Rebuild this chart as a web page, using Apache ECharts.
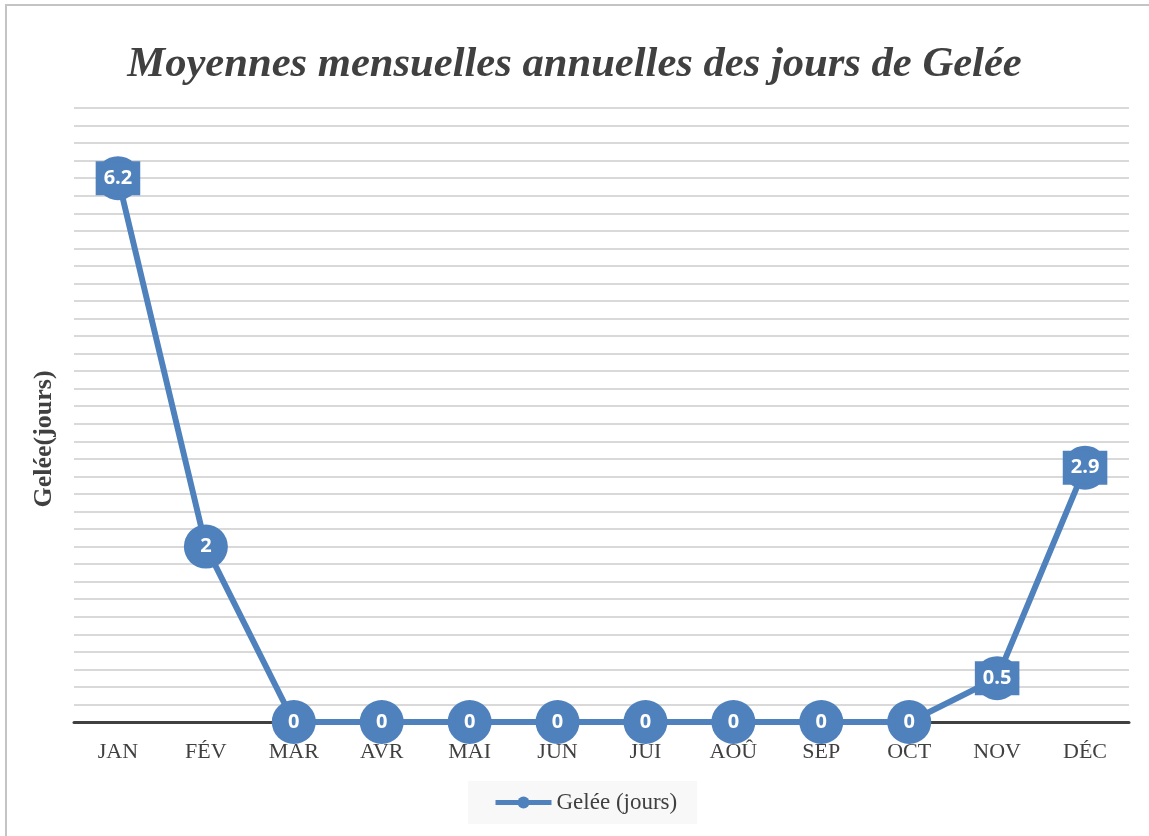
<!DOCTYPE html>
<html>
<head>
<meta charset="utf-8">
<script src="https://cdn.jsdelivr.net/npm/echarts@6/dist/echarts.min.js"></script>
<style>
    html, body { margin: 0; padding: 0; background: #fff; }
    #gelee { width: 1149px; height: 836px; }
</style>
</head>
<body>
<div id="gelee"></div>
<script>
// mois et moyennes des jours de gelée
var mois = ['JAN', 'FÉV', 'MAR', 'AVR', 'MAI', 'JUN', 'JUI', 'AOÛ', 'SEP', 'OCT', 'NOV', 'DÉC'];
var gelee = [6.2, 2, 0, 0, 0, 0, 0, 0, 0, 0, 0.5, 2.9];

var serif = '"Liberation Serif", "DejaVu Serif", serif';
var bleu = '#4f81bd';

var myChart = echarts.init(document.getElementById('gelee'));
var option = {
    backgroundColor: '#ffffff',
    title: {
        text: 'Moyennes mensuelles annuelles des jours de Gelée',
        left: 'center',
        top: 38,
        textStyle: {
            fontFamily: serif,
            fontStyle: 'italic',
            fontWeight: 'bold',
            fontSize: 42.6,
            color: '#404040'
        }
    },
    graphic: [
        {
            type: 'rect',
            shape: {x: 6, y: 5, width: 1300, height: 1000},
            style: {fill: 'none', stroke: '#c4c4c4', lineWidth: 2},
            silent: true
        },
        {
            type: 'text',
            x: 44,
            y: 439,
            rotation: Math.PI / 2,
            style: {
                text: 'Gelée(jours)',
                fontFamily: serif,
                fontWeight: 'bold',
                fontSize: 26,
                fill: '#404040',
                align: 'center',
                verticalAlign: 'middle'
            }
        }
    ],
    legend: {
        bottom: 12,
        left: 468,
        data: ['Gelée (jours)'],
        backgroundColor: '#f8f8f8',
        padding: [10, 20, 10, 25],
        itemWidth: 56,
        itemHeight: 15,
        itemGap: 4,
        lineStyle: {width: 5},
        textStyle: {fontFamily: serif, fontSize: 23, color: '#404040'}
    },
    grid: {left: 74, right: 20, top: 108, bottom: 114, containLabel: false},
    xAxis: {
        type: 'category',
        data: mois,
        boundaryGap: true,
        axisLine: {lineStyle: {color: '#404040', width: 3}},
        axisTick: {show: false},
        axisLabel: {fontFamily: serif, fontSize: 22, color: '#404040', margin: 19}
    },
    yAxis: {
        type: 'value',
        min: 0,
        max: 7,
        interval: 0.2,
        axisLine: {show: false},
        axisTick: {show: false},
        axisLabel: {show: false},
        splitLine: {lineStyle: {color: '#cccccc', width: 1.6}}
    },
    series: [
        {
            name: 'Gelée (jours)',
            type: 'line',
            data: gelee,
            symbol: 'circle',
            symbolSize: 44,
            itemStyle: {color: bleu},
            lineStyle: {color: bleu, width: 6},
            label: {
                show: true,
                position: 'inside',
                color: '#ffffff',
                fontFamily: '"Open Sans", "Noto Sans", sans-serif',
                fontWeight: 'bold',
                fontSize: 20,
                backgroundColor: bleu,
                padding: [7, 8, 7, 8]
            },
            emphasis: {disabled: true},
            z: 3
        }
    ]
};
option && myChart.setOption(option);
</script>
</body>
</html>
